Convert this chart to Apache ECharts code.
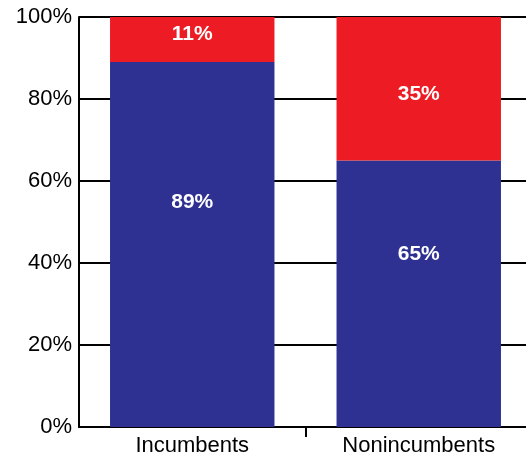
<!DOCTYPE html>
<html><head><meta charset="utf-8">
<script src="https://cdn.jsdelivr.net/npm/echarts@6/dist/echarts.min.js"></script>
<style>html,body{margin:0;padding:0;background:#fff;overflow:hidden;width:526px;height:457px}#c{width:550px;height:457px}</style>
</head><body><div id="c"></div>
<script>
const categories = ['Incumbents', 'Nonincumbents'];
const blueValues = [89, 65];
const redValues = [11, 35];
const yTicks = [0, 20, 40, 60, 80, 100];
const tickSlots = ['', '', ''];

const blueOffsets = [[0, -42], [0, -40]];
const redOffsets = [[0, -5], [0, 5]];

const chart = echarts.init(document.getElementById('c'));
const lbl = {show: true, position: 'inside', color: '#fff', fontWeight: 'bold', fontSize: 21, fontFamily: 'Liberation Sans', formatter: p => p.value + '%'};
chart.setOption({
  animation: false,
  grid: {left: 79, width: 453, top: 17, height: 410, containLabel: false},
  xAxis: [{
    type: 'category', data: categories,
    axisLine: {lineStyle: {color: '#000', width: 2}},
    axisTick: {show: false},
    axisLabel: {color: '#000', fontSize: 22, fontFamily: 'Liberation Sans', margin: 8}
  }, {
    type: 'category', data: tickSlots, position: 'bottom', boundaryGap: false,
    axisLine: {show: false},
    axisLabel: {show: false},
    splitLine: {show: false},
    axisTick: {show: true, length: 10, interval: (i) => i === 1, lineStyle: {color: '#000', width: 2}}
  }],
  yAxis: {
    type: 'value', min: 0, max: 100, interval: 20,
    axisLine: {show: true, lineStyle: {color: '#000', width: 2}},
    axisTick: {show: false},
    splitLine: {show: true, lineStyle: {color: '#000', width: 2}},
    axisLabel: {color: '#000', fontSize: 22, fontFamily: 'Liberation Sans', margin: 7,
      formatter: v => yTicks.includes(v) ? v + '%' : ''}
  },
  series: [
    {type: 'bar', stack: 'a', barWidth: '72.6%', itemStyle: {color: '#2E3192'}, label: lbl,
      data: blueValues.map((v, i) => ({value: v, label: {offset: blueOffsets[i]}}))},
    {type: 'bar', stack: 'a', barWidth: '72.6%', itemStyle: {color: '#ED1C24'}, label: lbl,
      data: redValues.map((v, i) => ({value: v, label: {offset: redOffsets[i]}}))}
  ]
});
</script></body></html>
